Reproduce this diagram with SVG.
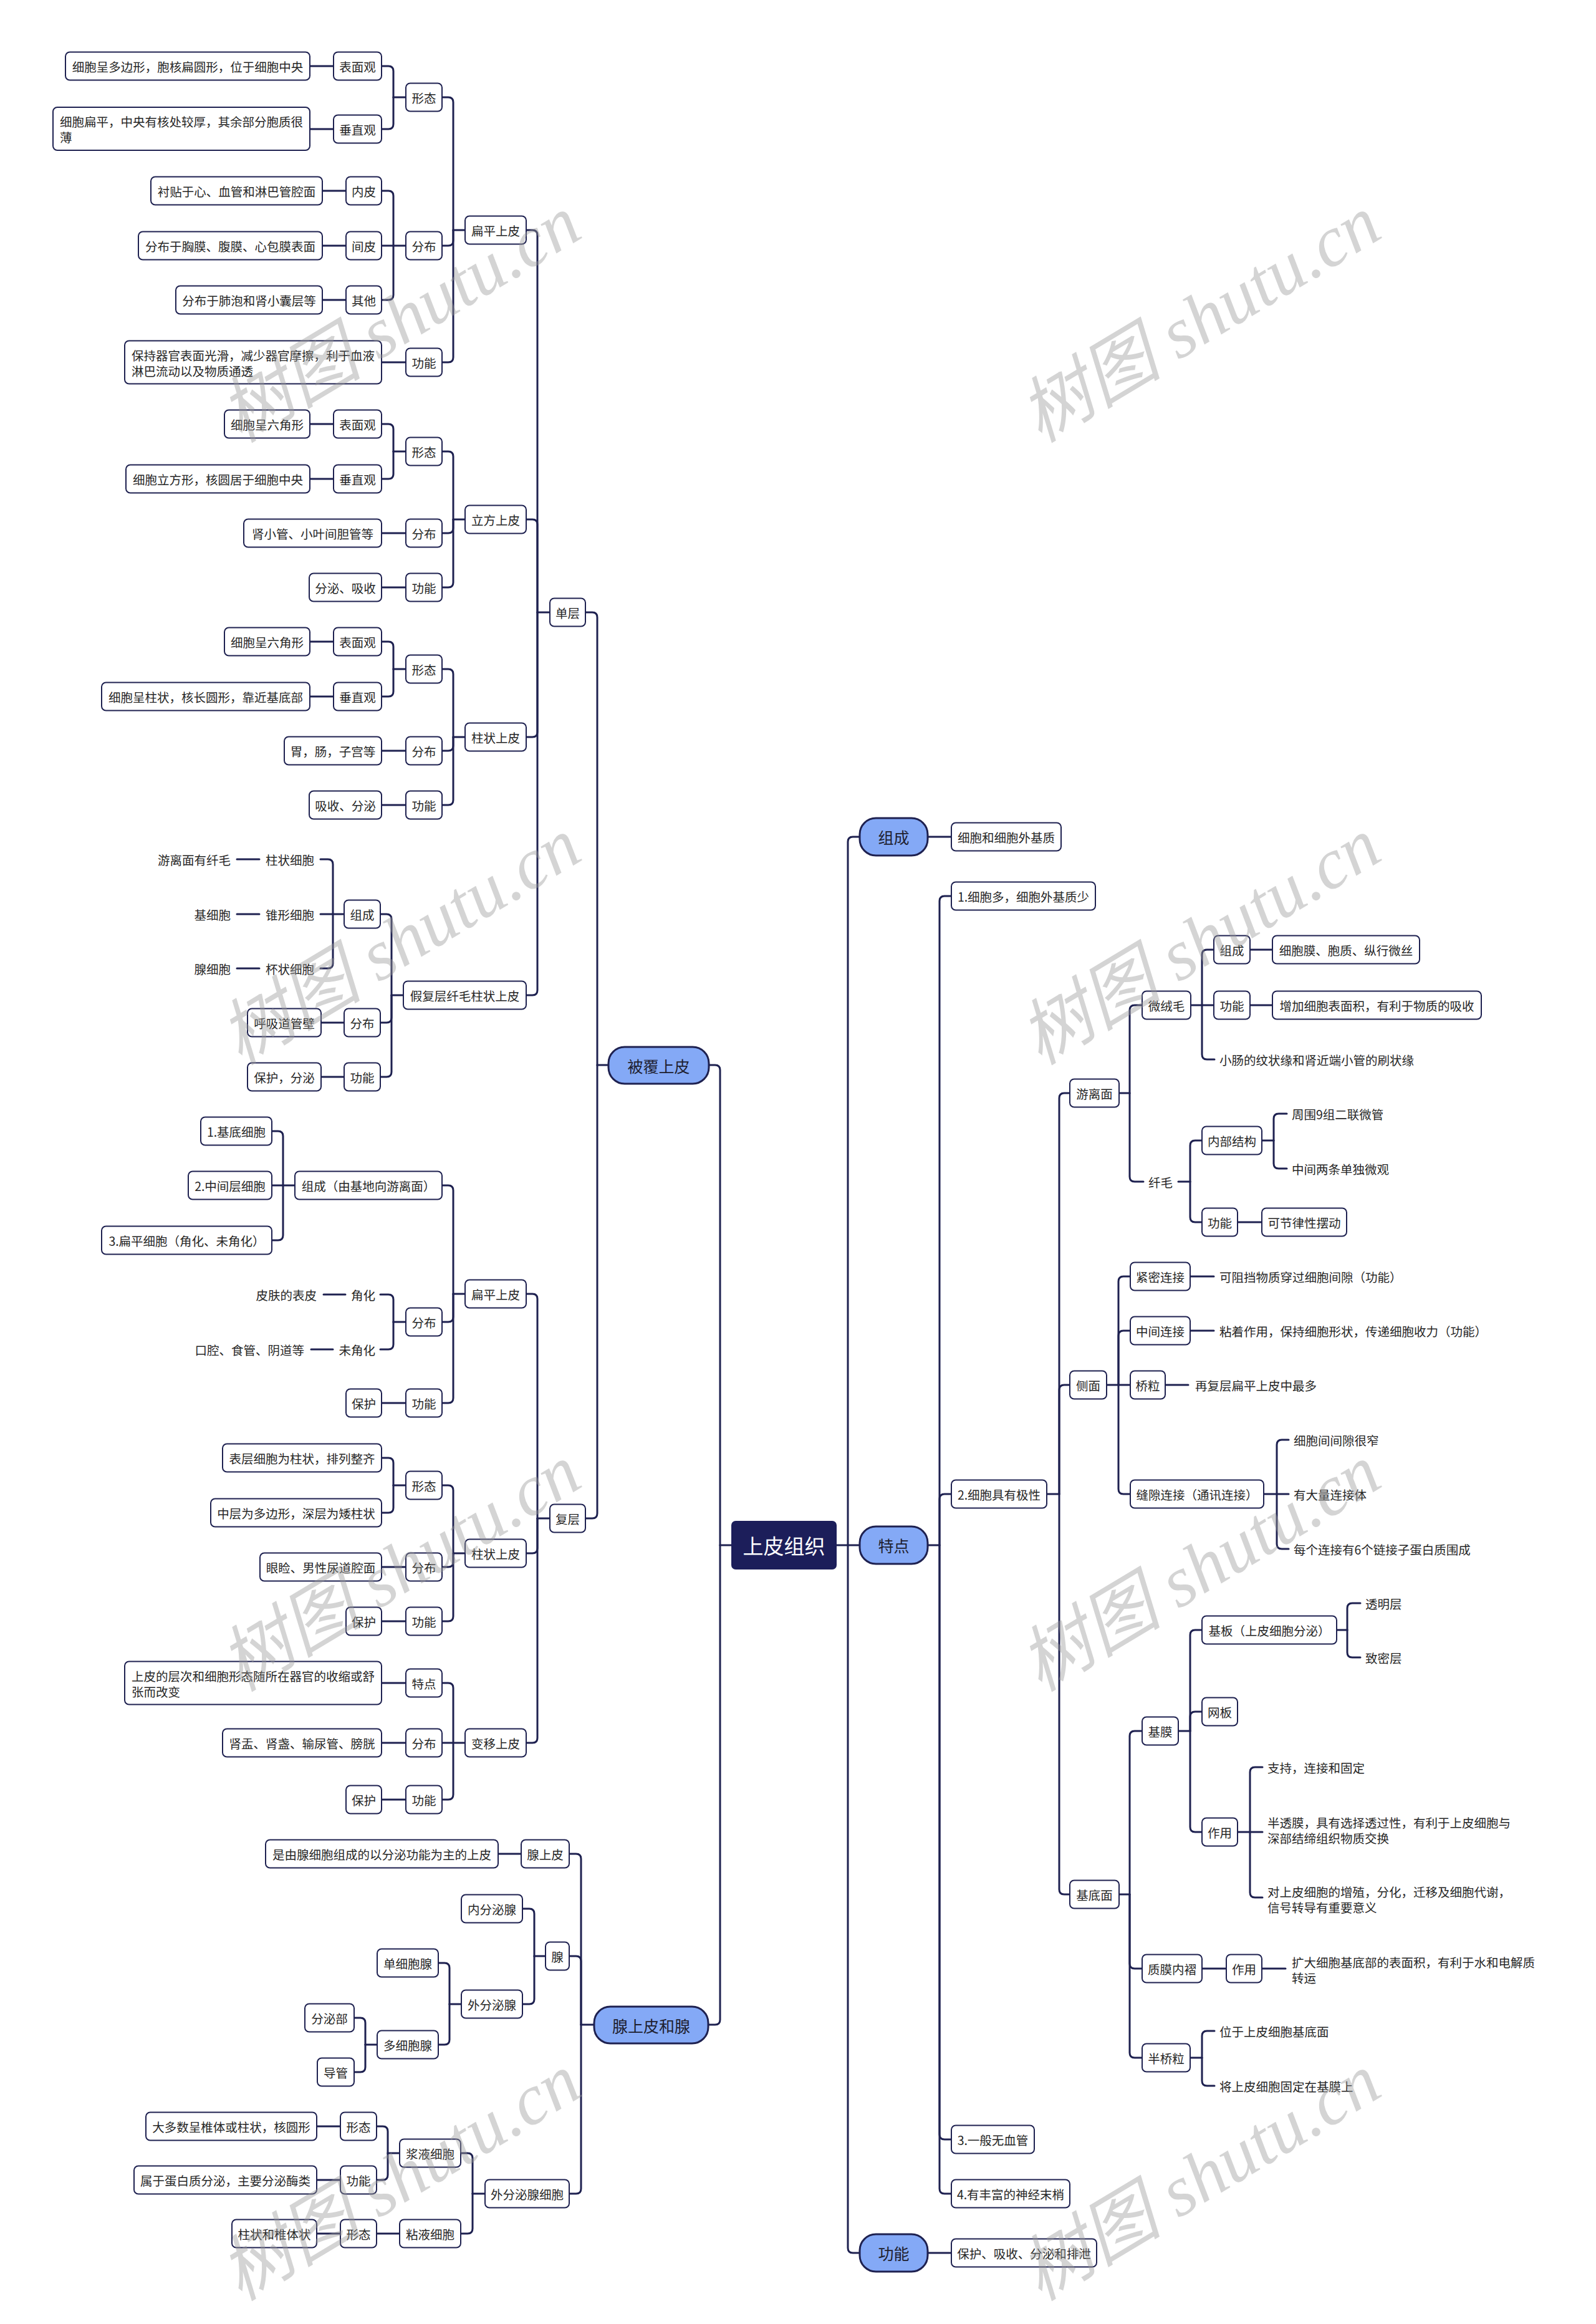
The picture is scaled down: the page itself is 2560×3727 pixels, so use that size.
<svg xmlns="http://www.w3.org/2000/svg" width="2560" height="3727" viewBox="0 0 2560 3727">
<style>
.bg{fill:#ffffff}
.b{fill:#ffffff;stroke:#1e2150;stroke-width:2}
.p{fill:#84a9f6;stroke:#1e2150;stroke-width:3}
.r{fill:#1c1e5a;stroke:#1c1e5a;stroke-width:2}
.t{font-family:"Noto Sans CJK SC","Liberation Sans",sans-serif;font-size:19.5px;fill:#262626;dominant-baseline:central}
.m{text-anchor:middle}
.e{text-anchor:end}
.pt{font-family:"Noto Sans CJK SC","Liberation Sans",sans-serif;font-size:25px;fill:#1e1e2e;dominant-baseline:central;text-anchor:middle}
.rt{font-family:"Noto Sans CJK SC","Liberation Sans",sans-serif;font-size:33px;fill:#ffffff;dominant-baseline:central;text-anchor:middle}
.c path{fill:none;stroke:#1e2150;stroke-width:3;stroke-linecap:round;stroke-linejoin:round}
.w{font-family:"Liberation Serif","Noto Sans CJK SC",serif;font-style:italic;font-size:115px;fill:#9a9a9a;opacity:0.42;text-anchor:middle;dominant-baseline:central}
</style>
<rect class="bg" x="0" y="0" width="2560" height="3727"/>

<g id="connectors" class="c">
<path d="M497 106 H535"/><path d="M497 207 H535"/>
<path d="M517 306 H555"/><path d="M517 394 H555"/><path d="M517 481 H555"/>
<path d="M612 581 H651"/>
<path d="M497 680 H535"/><path d="M497 768 H535"/>
<path d="M612 855 H651"/><path d="M612 942 H651"/>
<path d="M497 1029 H535"/><path d="M497 1117 H535"/>
<path d="M612 1204 H651"/><path d="M612 1291 H651"/>
<path d="M380 1378 H416"/><path d="M380 1466 H416"/><path d="M380 1553 H416"/>
<path d="M515 1640 H552"/><path d="M515 1727 H552"/>
<path d="M519 2076 H554"/><path d="M499 2164 H534"/>
<path d="M612 2250 H651"/>
<path d="M612 2513 H651"/><path d="M612 2600 H651"/>
<path d="M612 2699 H651"/><path d="M612 2795 H651"/><path d="M612 2886 H651"/>
<path d="M799 2973 H836"/>
<path d="M508 3410 H546"/><path d="M508 3496 H546"/><path d="M508 3582 H546"/><path d="M604 3582 H641"/>
<path d="M612 106 H623 Q631 106 631 114 V156"/><path d="M612 207 H623 Q631 207 631 199 V156"/><path d="M631 156 H651"/>
<path d="M612 306 H623 Q631 306 631 314 V394"/><path d="M612 394 H651"/><path d="M612 481 H623 Q631 481 631 473 V394"/>
<path d="M709 156 H719 Q727 156 727 164 V369"/><path d="M709 394 H719 Q727 394 727 386 V369"/><path d="M709 581 H719 Q727 581 727 573 V369"/><path d="M727 369 H746"/>
<path d="M612 680 H623 Q631 680 631 688 V724"/><path d="M612 768 H623 Q631 768 631 760 V724"/><path d="M631 724 H651"/>
<path d="M709 724 H719 Q727 724 727 732 V833"/><path d="M709 855 H719 Q727 855 727 847 V833"/><path d="M709 942 H719 Q727 942 727 934 V833"/><path d="M727 833 H746"/>
<path d="M612 1029 H623 Q631 1029 631 1037 V1073"/><path d="M612 1117 H623 Q631 1117 631 1109 V1073"/><path d="M631 1073 H651"/>
<path d="M709 1073 H719 Q727 1073 727 1081 V1182"/><path d="M709 1204 H719 Q727 1204 727 1196 V1182"/><path d="M709 1291 H719 Q727 1291 727 1283 V1182"/><path d="M727 1182 H746"/>
<path d="M514 1378 H526 Q534 1378 534 1386 V1466"/><path d="M514 1466 H552"/><path d="M514 1553 H526 Q534 1553 534 1545 V1466"/>
<path d="M610 1466 H620 Q628 1466 628 1474 V1596"/><path d="M610 1640 H620 Q628 1640 628 1632 V1596"/><path d="M610 1727 H620 Q628 1727 628 1719 V1596"/><path d="M628 1596 H647"/>
<path d="M844 369 H854 Q862 369 862 377 V982"/><path d="M844 833 H854 Q862 833 862 841 V982"/><path d="M844 1182 H854 Q862 1182 862 1174 V982"/><path d="M844 1596 H854 Q862 1596 862 1588 V982"/><path d="M862 982 H882"/>
<path d="M939 982 H950 Q958 982 958 990 V1708"/><path d="M939 2435 H950 Q958 2435 958 2427 V1708"/><path d="M958 1708 H976"/>
<path d="M436 1814 H446 Q454 1814 454 1822 V1901"/><path d="M436 1901 H473"/><path d="M436 1989 H446 Q454 1989 454 1981 V1901"/>
<path d="M610 2076 H623 Q631 2076 631 2084 V2120"/><path d="M610 2164 H623 Q631 2164 631 2156 V2120"/><path d="M631 2120 H651"/>
<path d="M709 1901 H719 Q727 1901 727 1909 V2075"/><path d="M709 2120 H719 Q727 2120 727 2112 V2075"/><path d="M709 2250 H719 Q727 2250 727 2242 V2075"/><path d="M727 2075 H746"/>
<path d="M612 2338 H623 Q631 2338 631 2346 V2382"/><path d="M612 2426 H623 Q631 2426 631 2418 V2382"/><path d="M631 2382 H651"/>
<path d="M709 2382 H719 Q727 2382 727 2390 V2491"/><path d="M709 2513 H719 Q727 2513 727 2505 V2491"/><path d="M709 2600 H719 Q727 2600 727 2592 V2491"/><path d="M727 2491 H746"/>
<path d="M709 2699 H719 Q727 2699 727 2707 V2795"/><path d="M709 2795 H746"/><path d="M709 2886 H719 Q727 2886 727 2878 V2795"/>
<path d="M844 2075 H854 Q862 2075 862 2083 V2435"/><path d="M844 2491 H854 Q862 2491 862 2483 V2435"/><path d="M844 2795 H854 Q862 2795 862 2787 V2435"/><path d="M862 2435 H882"/>
<path d="M568 3236 H578 Q586 3236 586 3244 V3279"/><path d="M568 3323 H578 Q586 3323 586 3315 V3279"/><path d="M586 3279 H605"/>
<path d="M703 3148 H713 Q721 3148 721 3156 V3214"/><path d="M703 3279 H713 Q721 3279 721 3271 V3214"/><path d="M721 3214 H740"/>
<path d="M838 3061 H849 Q857 3061 857 3069 V3137"/><path d="M838 3214 H849 Q857 3214 857 3206 V3137"/><path d="M857 3137 H875"/>
<path d="M604 3410 H614 Q622 3410 622 3418 V3453"/><path d="M604 3496 H614 Q622 3496 622 3488 V3453"/><path d="M622 3453 H641"/>
<path d="M739 3453 H750 Q758 3453 758 3461 V3518"/><path d="M739 3582 H750 Q758 3582 758 3574 V3518"/><path d="M758 3518 H778"/>
<path d="M913 2973 H924 Q932 2973 932 2981 V3247"/><path d="M913 3137 H924 Q932 3137 932 3145 V3247"/><path d="M913 3518 H924 Q932 3518 932 3510 V3247"/><path d="M932 3247 H953"/>
<path d="M1137 1708 H1147 Q1155 1708 1155 1716 V2478"/><path d="M1136 3247 H1147 Q1155 3247 1155 3239 V2478"/><path d="M1155 2478 H1174"/>
<path d="M1341 2478 H1379"/><path d="M1379 1342 H1368 Q1360 1342 1360 1350 V2478"/><path d="M1379 3613 H1368 Q1360 3613 1360 3605 V2478"/>
<path d="M1488 1342 H1526"/>
<path d="M1488 2478 H1507"/><path d="M1526 1437 H1515 Q1507 1437 1507 1445 V2478"/><path d="M1526 2396 H1515 Q1507 2396 1507 2404 V2478"/><path d="M1526 3431 H1515 Q1507 3431 1507 3423 V2478"/><path d="M1526 3518 H1515 Q1507 3518 1507 3510 V2478"/>
<path d="M1679 2396 H1699"/><path d="M1716 1753 H1707 Q1699 1753 1699 1761 V2396"/><path d="M1716 2221 H1707 Q1699 2221 1699 2229 V2396"/><path d="M1716 3038 H1707 Q1699 3038 1699 3030 V2396"/>
<path d="M1795 1753 H1812"/><path d="M1832 1612 H1820 Q1812 1612 1812 1620 V1753"/><path d="M1834 1895 H1820 Q1812 1895 1812 1887 V1753"/>
<path d="M1910 1612 H1947"/><path d="M1947 1523 H1936 Q1928 1523 1928 1531 V1612"/><path d="M1948 1699 H1936 Q1928 1699 1928 1691 V1612"/>
<path d="M2005 1523 H2041"/><path d="M2005 1612 H2041"/>
<path d="M1890 1895 H1909"/><path d="M1928 1829 H1917 Q1909 1829 1909 1837 V1895"/><path d="M1928 1960 H1917 Q1909 1960 1909 1952 V1895"/>
<path d="M2024 1829 H2043"/><path d="M2064 1786 H2051 Q2043 1786 2043 1794 V1829"/><path d="M2064 1874 H2051 Q2043 1874 2043 1866 V1829"/>
<path d="M1985 1960 H2024"/>
<path d="M1775 2221 H1813"/><path d="M1813 2047 H1802 Q1794 2047 1794 2055 V2221"/><path d="M1813 2134 H1802 Q1794 2134 1794 2142 V2221"/><path d="M1813 2396 H1802 Q1794 2396 1794 2388 V2221"/>
<path d="M1909 2047 H1947"/><path d="M1909 2134 H1947"/><path d="M1869 2221 H1906"/>
<path d="M2027 2396 H2067"/><path d="M2067 2309 H2056 Q2048 2309 2048 2317 V2396"/><path d="M2067 2484 H2056 Q2048 2484 2048 2476 V2396"/>
<path d="M1795 3038 H1812"/><path d="M1832 2776 H1820 Q1812 2776 1812 2784 V3038"/><path d="M1832 3157 H1820 Q1812 3157 1812 3149 V3038"/><path d="M1832 3300 H1820 Q1812 3300 1812 3292 V3038"/>
<path d="M1890 2776 H1909"/><path d="M1928 2614 H1917 Q1909 2614 1909 2622 V2776"/><path d="M1928 2745 H1917 Q1909 2745 1909 2753 V2776"/><path d="M1928 2938 H1917 Q1909 2938 1909 2930 V2776"/>
<path d="M2144 2614 H2161"/><path d="M2182 2571 H2169 Q2161 2571 2161 2579 V2614"/><path d="M2182 2658 H2169 Q2161 2658 2161 2650 V2614"/>
<path d="M1985 2938 H2025"/><path d="M2025 2834 H2013 Q2005 2834 2005 2842 V2938"/><path d="M2025 3043 H2013 Q2005 3043 2005 3035 V2938"/>
<path d="M1928 3157 H1967"/><path d="M2024 3157 H2062"/>
<path d="M1909 3300 H1928"/><path d="M1948 3257 H1936 Q1928 3257 1928 3265 V3300"/><path d="M1948 3345 H1936 Q1928 3345 1928 3337 V3300"/>
<path d="M1488 3613 H1526"/>
</g>

<g id="root"><rect class="r" x="1174" y="2440" width="167" height="76" rx="6"/><text class="rt" x="1257.5" y="2478">上皮组织</text></g>

<g id="beifu"><rect class="p" x="976" y="1679" width="161" height="59" rx="26"/><text class="pt" x="1056.5" y="1708.5">被覆上皮</text></g>
<g id="xian"><rect class="p" x="953" y="3218" width="183" height="59" rx="26"/><text class="pt" x="1044.5" y="3247.5">腺上皮和腺</text></g>
<g id="zucheng"><rect class="p" x="1379" y="1312" width="109" height="60" rx="26"/><text class="pt" x="1433.5" y="1342">组成</text></g>
<g id="tedian"><rect class="p" x="1379" y="2448" width="109" height="60" rx="26"/><text class="pt" x="1433.5" y="2478">特点</text></g>
<g id="gongneng"><rect class="p" x="1379" y="3583" width="109" height="60" rx="26"/><text class="pt" x="1433.5" y="3613">功能</text></g>

<g id="n1"><rect class="b" x="105" y="83.5" width="392" height="45" rx="7"/><text class="t m" x="301" y="106">细胞呈多边形，胞核扁圆形，位于细胞中央</text></g>
<g id="n2"><rect class="b" x="535" y="83.5" width="77" height="45" rx="7"/><text class="t m" x="573.5" y="106">表面观</text></g>
<g id="n3"><rect class="b" x="85" y="172" width="412" height="69" rx="7"/><text class="t"><tspan x="96" y="194">细胞扁平，中央有核处较厚，其余部分胞质很</tspan><tspan x="96" y="219">薄</tspan></text></g>
<g id="n4"><rect class="b" x="535" y="184.5" width="77" height="45" rx="7"/><text class="t m" x="573.5" y="207">垂直观</text></g>
<g id="n5"><rect class="b" x="651" y="133.5" width="58" height="45" rx="7"/><text class="t m" x="680" y="156">形态</text></g>
<g id="n6"><rect class="b" x="242" y="283.5" width="275" height="45" rx="7"/><text class="t m" x="379.5" y="306">衬贴于心、血管和淋巴管腔面</text></g>
<g id="n7"><rect class="b" x="555" y="283.5" width="57" height="45" rx="7"/><text class="t m" x="583.5" y="306">内皮</text></g>
<g id="n8"><rect class="b" x="222" y="371.5" width="295" height="45" rx="7"/><text class="t m" x="369.5" y="394">分布于胸膜、腹膜、心包膜表面</text></g>
<g id="n9"><rect class="b" x="555" y="371.5" width="57" height="45" rx="7"/><text class="t m" x="583.5" y="394">间皮</text></g>
<g id="n10"><rect class="b" x="282" y="458.5" width="235" height="45" rx="7"/><text class="t m" x="399.5" y="481">分布于肺泡和肾小囊层等</text></g>
<g id="n11"><rect class="b" x="555" y="458.5" width="57" height="45" rx="7"/><text class="t m" x="583.5" y="481">其他</text></g>
<g id="n12"><rect class="b" x="651" y="371.5" width="58" height="45" rx="7"/><text class="t m" x="680" y="394">分布</text></g>
<g id="n13"><rect class="b" x="200" y="546.5" width="412" height="69" rx="7"/><text class="t"><tspan x="211" y="568.5">保持器官表面光滑，减少器官摩擦，利于血液</tspan><tspan x="211" y="593.5">淋巴流动以及物质通透</tspan></text></g>
<g id="n14"><rect class="b" x="651" y="558.5" width="58" height="45" rx="7"/><text class="t m" x="680" y="581">功能</text></g>
<g id="n15"><rect class="b" x="746" y="346.5" width="98" height="45" rx="7"/><text class="t m" x="795" y="369">扁平上皮</text></g>

<g id="n16"><rect class="b" x="360" y="657.5" width="137" height="45" rx="7"/><text class="t m" x="428.5" y="680">细胞呈六角形</text></g>
<g id="n17"><rect class="b" x="535" y="657.5" width="77" height="45" rx="7"/><text class="t m" x="573.5" y="680">表面观</text></g>
<g id="n18"><rect class="b" x="202" y="745.5" width="295" height="45" rx="7"/><text class="t m" x="349.5" y="768">细胞立方形，核圆居于细胞中央</text></g>
<g id="n19"><rect class="b" x="535" y="745.5" width="77" height="45" rx="7"/><text class="t m" x="573.5" y="768">垂直观</text></g>
<g id="n20"><rect class="b" x="651" y="701.5" width="58" height="45" rx="7"/><text class="t m" x="680" y="724">形态</text></g>
<g id="n21"><rect class="b" x="391" y="832.5" width="221" height="45" rx="7"/><text class="t m" x="501.5" y="855">肾小管、小叶间胆管等</text></g>
<g id="n22"><rect class="b" x="651" y="832.5" width="58" height="45" rx="7"/><text class="t m" x="680" y="855">分布</text></g>
<g id="n23"><rect class="b" x="496" y="919.5" width="116" height="45" rx="7"/><text class="t m" x="554" y="942">分泌、吸收</text></g>
<g id="n24"><rect class="b" x="651" y="919.5" width="58" height="45" rx="7"/><text class="t m" x="680" y="942">功能</text></g>
<g id="n25"><rect class="b" x="746" y="810.5" width="98" height="45" rx="7"/><text class="t m" x="795" y="833">立方上皮</text></g>

<g id="n26"><rect class="b" x="360" y="1006.5" width="137" height="45" rx="7"/><text class="t m" x="428.5" y="1029">细胞呈六角形</text></g>
<g id="n27"><rect class="b" x="535" y="1006.5" width="77" height="45" rx="7"/><text class="t m" x="573.5" y="1029">表面观</text></g>
<g id="n28"><rect class="b" x="163" y="1094.5" width="334" height="45" rx="7"/><text class="t m" x="330" y="1117">细胞呈柱状，核长圆形，靠近基底部</text></g>
<g id="n29"><rect class="b" x="535" y="1094.5" width="77" height="45" rx="7"/><text class="t m" x="573.5" y="1117">垂直观</text></g>
<g id="n30"><rect class="b" x="651" y="1050.5" width="58" height="45" rx="7"/><text class="t m" x="680" y="1073">形态</text></g>
<g id="n31"><rect class="b" x="456" y="1181.5" width="156" height="45" rx="7"/><text class="t m" x="534" y="1204">胃，肠，子宫等</text></g>
<g id="n32"><rect class="b" x="651" y="1181.5" width="58" height="45" rx="7"/><text class="t m" x="680" y="1204">分布</text></g>
<g id="n33"><rect class="b" x="496" y="1268.5" width="116" height="45" rx="7"/><text class="t m" x="554" y="1291">吸收、分泌</text></g>
<g id="n34"><rect class="b" x="651" y="1268.5" width="58" height="45" rx="7"/><text class="t m" x="680" y="1291">功能</text></g>
<g id="n35"><rect class="b" x="746" y="1159.5" width="98" height="45" rx="7"/><text class="t m" x="795" y="1182">柱状上皮</text></g>

<g id="n36a"><text class="t e" x="370" y="1378">游离面有纤毛</text></g>
<g id="n36b"><text class="t" x="426" y="1378">柱状细胞</text></g>
<g id="n36c"><text class="t e" x="370" y="1466">基细胞</text></g>
<g id="n36d"><text class="t" x="426" y="1466">锥形细胞</text></g>
<g id="n36e"><text class="t e" x="370" y="1553">腺细胞</text></g>
<g id="n36f"><text class="t" x="426" y="1553">杯状细胞</text></g>
<g id="n36"><rect class="b" x="552" y="1443.5" width="58" height="45" rx="7"/><text class="t m" x="581" y="1466">组成</text></g>
<g id="n37"><rect class="b" x="397" y="1617.5" width="118" height="45" rx="7"/><text class="t m" x="456" y="1640">呼吸道管壁</text></g>
<g id="n38"><rect class="b" x="552" y="1617.5" width="58" height="45" rx="7"/><text class="t m" x="581" y="1640">分布</text></g>
<g id="n39"><rect class="b" x="397" y="1704.5" width="118" height="45" rx="7"/><text class="t m" x="456" y="1727">保护，分泌</text></g>
<g id="n40"><rect class="b" x="552" y="1704.5" width="58" height="45" rx="7"/><text class="t m" x="581" y="1727">功能</text></g>
<g id="n41"><rect class="b" x="647" y="1573.5" width="197" height="45" rx="7"/><text class="t m" x="745.5" y="1596">假复层纤毛柱状上皮</text></g>
<g id="n42"><rect class="b" x="882" y="959.5" width="57" height="45" rx="7"/><text class="t m" x="910.5" y="982">单层</text></g>

<g id="n43"><rect class="b" x="322" y="1791.5" width="114" height="45" rx="7"/><text class="t m" x="379" y="1814">1.基底细胞</text></g>
<g id="n44"><rect class="b" x="302" y="1878.5" width="134" height="45" rx="7"/><text class="t m" x="369" y="1901">2.中间层细胞</text></g>
<g id="n45"><rect class="b" x="163" y="1966.5" width="273" height="45" rx="7"/><text class="t m" x="299.5" y="1989">3.扁平细胞（角化、未角化）</text></g>
<g id="n46"><rect class="b" x="473" y="1878.5" width="236" height="45" rx="7"/><text class="t m" x="591" y="1901">组成（由基地向游离面）</text></g>
<g id="n47a"><text class="t e" x="508" y="2076">皮肤的表皮</text></g>
<g id="n47b"><text class="t e" x="602" y="2076">角化</text></g>
<g id="n47c"><text class="t e" x="488" y="2164">口腔、食管、阴道等</text></g>
<g id="n47d"><text class="t e" x="602" y="2164">未角化</text></g>
<g id="n47"><rect class="b" x="651" y="2097.5" width="58" height="45" rx="7"/><text class="t m" x="680" y="2120">分布</text></g>
<g id="n48"><rect class="b" x="555" y="2227.5" width="57" height="45" rx="7"/><text class="t m" x="583.5" y="2250">保护</text></g>
<g id="n49"><rect class="b" x="651" y="2227.5" width="58" height="45" rx="7"/><text class="t m" x="680" y="2250">功能</text></g>
<g id="n50"><rect class="b" x="746" y="2052.5" width="98" height="45" rx="7"/><text class="t m" x="795" y="2075">扁平上皮</text></g>
<g id="n51"><rect class="b" x="357" y="2315.5" width="255" height="45" rx="7"/><text class="t m" x="484.5" y="2338">表层细胞为柱状，排列整齐</text></g>
<g id="n52"><rect class="b" x="338" y="2403.5" width="274" height="45" rx="7"/><text class="t m" x="475" y="2426">中层为多边形，深层为矮柱状</text></g>
<g id="n53"><rect class="b" x="651" y="2359.5" width="58" height="45" rx="7"/><text class="t m" x="680" y="2382">形态</text></g>
<g id="n54"><rect class="b" x="417" y="2490.5" width="195" height="45" rx="7"/><text class="t m" x="514.5" y="2513">眼睑、男性尿道腔面</text></g>
<g id="n55"><rect class="b" x="651" y="2490.5" width="58" height="45" rx="7"/><text class="t m" x="680" y="2513">分布</text></g>
<g id="n56"><rect class="b" x="555" y="2577.5" width="57" height="45" rx="7"/><text class="t m" x="583.5" y="2600">保护</text></g>
<g id="n57"><rect class="b" x="651" y="2577.5" width="58" height="45" rx="7"/><text class="t m" x="680" y="2600">功能</text></g>
<g id="n58"><rect class="b" x="746" y="2468.5" width="98" height="45" rx="7"/><text class="t m" x="795" y="2491">柱状上皮</text></g>
<g id="n59"><rect class="b" x="200" y="2664.5" width="412" height="69" rx="7"/><text class="t"><tspan x="211" y="2686.5">上皮的层次和细胞形态随所在器官的收缩或舒</tspan><tspan x="211" y="2711.5">张而改变</tspan></text></g>
<g id="n60"><rect class="b" x="651" y="2676.5" width="58" height="45" rx="7"/><text class="t m" x="680" y="2699">特点</text></g>
<g id="n61"><rect class="b" x="357" y="2772.5" width="255" height="45" rx="7"/><text class="t m" x="484.5" y="2795">肾盂、肾盏、输尿管、膀胱</text></g>
<g id="n62"><rect class="b" x="651" y="2772.5" width="58" height="45" rx="7"/><text class="t m" x="680" y="2795">分布</text></g>
<g id="n63"><rect class="b" x="555" y="2863.5" width="57" height="45" rx="7"/><text class="t m" x="583.5" y="2886">保护</text></g>
<g id="n64"><rect class="b" x="651" y="2863.5" width="58" height="45" rx="7"/><text class="t m" x="680" y="2886">功能</text></g>
<g id="n65"><rect class="b" x="746" y="2772.5" width="98" height="45" rx="7"/><text class="t m" x="795" y="2795">变移上皮</text></g>
<g id="n66"><rect class="b" x="882" y="2412.5" width="57" height="45" rx="7"/><text class="t m" x="910.5" y="2435">复层</text></g>

<g id="n68"><rect class="b" x="426" y="2950.5" width="373" height="45" rx="7"/><text class="t m" x="612.5" y="2973">是由腺细胞组成的以分泌功能为主的上皮</text></g>
<g id="n69"><rect class="b" x="836" y="2950.5" width="77" height="45" rx="7"/><text class="t m" x="874.5" y="2973">腺上皮</text></g>
<g id="n70"><rect class="b" x="740" y="3038.5" width="98" height="45" rx="7"/><text class="t m" x="789" y="3061">内分泌腺</text></g>
<g id="n71"><rect class="b" x="605" y="3125.5" width="98" height="45" rx="7"/><text class="t m" x="654" y="3148">单细胞腺</text></g>
<g id="n72"><rect class="b" x="489" y="3213.5" width="79" height="45" rx="7"/><text class="t m" x="528.5" y="3236">分泌部</text></g>
<g id="n73"><rect class="b" x="509" y="3300.5" width="59" height="45" rx="7"/><text class="t m" x="538.5" y="3323">导管</text></g>
<g id="n74"><rect class="b" x="605" y="3256.5" width="98" height="45" rx="7"/><text class="t m" x="654" y="3279">多细胞腺</text></g>
<g id="n75"><rect class="b" x="740" y="3191.5" width="98" height="45" rx="7"/><text class="t m" x="789" y="3214">外分泌腺</text></g>
<g id="n76"><rect class="b" x="875" y="3114.5" width="38" height="45" rx="7"/><text class="t m" x="894" y="3137">腺</text></g>
<g id="n77"><rect class="b" x="234" y="3387.5" width="274" height="45" rx="7"/><text class="t m" x="371" y="3410">大多数呈椎体或柱状，核圆形</text></g>
<g id="n78"><rect class="b" x="546" y="3387.5" width="58" height="45" rx="7"/><text class="t m" x="575" y="3410">形态</text></g>
<g id="n79"><rect class="b" x="215" y="3473.5" width="293" height="45" rx="7"/><text class="t m" x="361.5" y="3496">属于蛋白质分泌，主要分泌酶类</text></g>
<g id="n80"><rect class="b" x="546" y="3473.5" width="58" height="45" rx="7"/><text class="t m" x="575" y="3496">功能</text></g>
<g id="n81"><rect class="b" x="641" y="3430.5" width="98" height="45" rx="7"/><text class="t m" x="690" y="3453">浆液细胞</text></g>
<g id="n82"><rect class="b" x="372" y="3559.5" width="136" height="45" rx="7"/><text class="t m" x="440" y="3582">柱状和椎体状</text></g>
<g id="n83"><rect class="b" x="546" y="3559.5" width="58" height="45" rx="7"/><text class="t m" x="575" y="3582">形态</text></g>
<g id="n84"><rect class="b" x="641" y="3559.5" width="98" height="45" rx="7"/><text class="t m" x="690" y="3582">粘液细胞</text></g>
<g id="n85"><rect class="b" x="778" y="3495.5" width="135" height="45" rx="7"/><text class="t m" x="845.5" y="3518">外分泌腺细胞</text></g>

<g id="r1"><rect class="b" x="1526" y="1319.5" width="176" height="45" rx="7"/><text class="t m" x="1614" y="1342">细胞和细胞外基质</text></g>
<g id="r2"><rect class="b" x="1526" y="1414.5" width="231" height="45" rx="7"/><text class="t m" x="1641.5" y="1437">1.细胞多，细胞外基质少</text></g>
<g id="r3"><rect class="b" x="1526" y="2373.5" width="153" height="45" rx="7"/><text class="t m" x="1602.5" y="2396">2.细胞具有极性</text></g>
<g id="r4"><rect class="b" x="1716" y="1730.5" width="79" height="45" rx="7"/><text class="t m" x="1755.5" y="1753">游离面</text></g>
<g id="r5"><rect class="b" x="1832" y="1589.5" width="78" height="45" rx="7"/><text class="t m" x="1871" y="1612">微绒毛</text></g>
<g id="r6"><rect class="b" x="1947" y="1500.5" width="58" height="45" rx="7"/><text class="t m" x="1976" y="1523">组成</text></g>
<g id="r7"><rect class="b" x="2041" y="1500.5" width="236" height="45" rx="7"/><text class="t m" x="2159" y="1523">细胞膜、胞质、纵行微丝</text></g>
<g id="r8"><rect class="b" x="1947" y="1589.5" width="58" height="45" rx="7"/><text class="t m" x="1976" y="1612">功能</text></g>
<g id="r9"><rect class="b" x="2041" y="1589.5" width="335" height="45" rx="7"/><text class="t m" x="2208.5" y="1612">增加细胞表面积，有利于物质的吸收</text></g>
<g id="r10"><text class="t" x="1956" y="1699">小肠的纹状缘和肾近端小管的刷状缘</text></g>
<g id="r11"><text class="t" x="1842" y="1895">纤毛</text></g>
<g id="r12"><rect class="b" x="1928" y="1806.5" width="96" height="45" rx="7"/><text class="t m" x="1976" y="1829">内部结构</text></g>
<g id="r13"><text class="t" x="2072" y="1786">周围9组二联微管</text></g>
<g id="r14"><text class="t" x="2072" y="1874">中间两条单独微观</text></g>
<g id="r15"><rect class="b" x="1928" y="1937.5" width="57" height="45" rx="7"/><text class="t m" x="1956.5" y="1960">功能</text></g>
<g id="r16"><rect class="b" x="2024" y="1937.5" width="136" height="45" rx="7"/><text class="t m" x="2092" y="1960">可节律性摆动</text></g>
<g id="r17"><rect class="b" x="1716" y="2198.5" width="59" height="45" rx="7"/><text class="t m" x="1745.5" y="2221">侧面</text></g>
<g id="r18"><rect class="b" x="1813" y="2024.5" width="96" height="45" rx="7"/><text class="t m" x="1861" y="2047">紧密连接</text></g>
<g id="r19"><text class="t" x="1956" y="2047">可阻挡物质穿过细胞间隙（功能）</text></g>
<g id="r20"><rect class="b" x="1813" y="2111.5" width="96" height="45" rx="7"/><text class="t m" x="1861" y="2134">中间连接</text></g>
<g id="r21"><text class="t" x="1956" y="2134">粘着作用，保持细胞形状，传递细胞收力（功能）</text></g>
<g id="r22"><rect class="b" x="1813" y="2198.5" width="56" height="45" rx="7"/><text class="t m" x="1841" y="2221">桥粒</text></g>
<g id="r23"><text class="t" x="1917" y="2221">再复层扁平上皮中最多</text></g>
<g id="r24"><rect class="b" x="1813" y="2373.5" width="214" height="45" rx="7"/><text class="t m" x="1920" y="2396">缝隙连接（通讯连接）</text></g>
<g id="r25"><text class="t" x="2075" y="2309">细胞间间隙很窄</text></g>
<g id="r26"><text class="t" x="2075" y="2396">有大量连接体</text></g>
<g id="r27"><text class="t" x="2075" y="2484">每个连接有6个链接子蛋白质围成</text></g>
<g id="r28"><rect class="b" x="1716" y="3015.5" width="79" height="45" rx="7"/><text class="t m" x="1755.5" y="3038">基底面</text></g>
<g id="r29"><rect class="b" x="1832" y="2753.5" width="58" height="45" rx="7"/><text class="t m" x="1861" y="2776">基膜</text></g>
<g id="r30"><rect class="b" x="1928" y="2591.5" width="216" height="45" rx="7"/><text class="t m" x="2036" y="2614">基板（上皮细胞分泌）</text></g>
<g id="r31"><text class="t" x="2190" y="2571">透明层</text></g>
<g id="r32"><text class="t" x="2190" y="2658">致密层</text></g>
<g id="r33"><rect class="b" x="1928" y="2722.5" width="57" height="45" rx="7"/><text class="t m" x="1956.5" y="2745">网板</text></g>
<g id="r34"><rect class="b" x="1928" y="2915.5" width="57" height="45" rx="7"/><text class="t m" x="1956.5" y="2938">作用</text></g>
<g id="r35"><text class="t" x="2033" y="2834">支持，连接和固定</text></g>
<g id="r36"><text class="t"><tspan x="2033" y="2922">半透膜，具有选择透过性，有利于上皮细胞与</tspan><tspan x="2033" y="2947">深部结缔组织物质交换</tspan></text></g>
<g id="r37"><text class="t"><tspan x="2033" y="3033">对上皮细胞的增殖，分化，迁移及细胞代谢，</tspan><tspan x="2033" y="3058">信号转导有重要意义</tspan></text></g>
<g id="r38"><rect class="b" x="1832" y="3134.5" width="96" height="45" rx="7"/><text class="t m" x="1880" y="3157">质膜内褶</text></g>
<g id="r39"><rect class="b" x="1967" y="3134.5" width="57" height="45" rx="7"/><text class="t m" x="1995.5" y="3157">作用</text></g>
<g id="r40"><text class="t"><tspan x="2072" y="3146">扩大细胞基底部的表面积，有利于水和电解质</tspan><tspan x="2072" y="3171">转运</tspan></text></g>
<g id="r41"><rect class="b" x="1832" y="3277.5" width="77" height="45" rx="7"/><text class="t m" x="1870.5" y="3300">半桥粒</text></g>
<g id="r42"><text class="t" x="1956" y="3257">位于上皮细胞基底面</text></g>
<g id="r43"><text class="t" x="1956" y="3345">将上皮细胞固定在基膜上</text></g>
<g id="r44"><rect class="b" x="1526" y="3408.5" width="133" height="45" rx="7"/><text class="t m" x="1592.5" y="3431">3.一般无血管</text></g>
<g id="r45"><rect class="b" x="1526" y="3495.5" width="190" height="45" rx="7"/><text class="t m" x="1621" y="3518">4.有丰富的神经末梢</text></g>
<g id="r46"><rect class="b" x="1526" y="3590.5" width="233" height="45" rx="7"/><text class="t m" x="1642.5" y="3613">保护、吸收、分泌和排泄</text></g>

<g id="watermarks">
<text class="w" transform="translate(642,512) rotate(-31)">树图 shutu.cn</text>
<text class="w" transform="translate(1925,512) rotate(-31)">树图 shutu.cn</text>
<text class="w" transform="translate(642,1510) rotate(-31)">树图 shutu.cn</text>
<text class="w" transform="translate(1925,1510) rotate(-31)">树图 shutu.cn</text>
<text class="w" transform="translate(642,2515) rotate(-31)">树图 shutu.cn</text>
<text class="w" transform="translate(1925,2515) rotate(-31)">树图 shutu.cn</text>
<text class="w" transform="translate(642,3492) rotate(-31)">树图 shutu.cn</text>
<text class="w" transform="translate(1925,3492) rotate(-31)">树图 shutu.cn</text>
</g>
</svg>
